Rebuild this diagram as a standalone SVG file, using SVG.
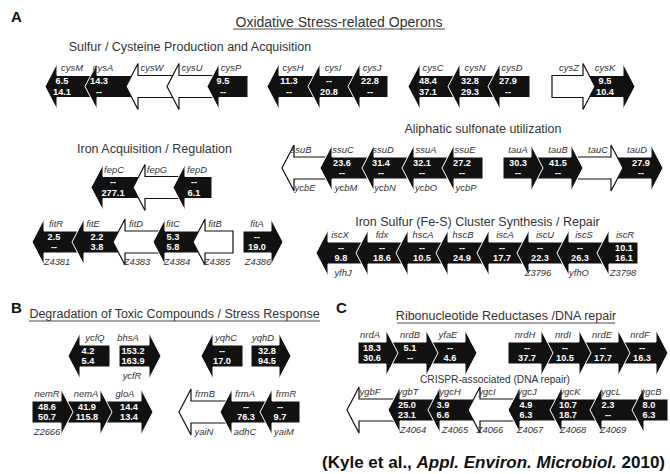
<svg xmlns="http://www.w3.org/2000/svg" width="670" height="474" viewBox="0 0 670 474">
<style>
text{font-family:"Liberation Sans",Arial,sans-serif}
.b{fill:#111;stroke:#fff;stroke-width:1}
.w{fill:#fff;stroke:#111;stroke-width:1.2}
.g{font-size:9.4px;font-style:italic;fill:#333;text-anchor:middle}
.v{font-size:9.2px;font-weight:bold;fill:#fff;text-anchor:middle}
.t{font-size:12.5px;fill:#333;text-anchor:middle}
.h{font-size:15px;font-weight:bold;fill:#111}
.u{stroke:#333;stroke-width:0.9}
</style>
<rect width="670" height="474" fill="#fff"/>
<!-- headings -->
<text class="h" x="11" y="22">A</text>
<text class="t" x="339" y="26.5" style="font-size:14px">Oxidative Stress-related Operons</text>
<line class="u" x1="233" y1="29" x2="445" y2="29"/>
<text class="t" x="190" y="51">Sulfur / Cysteine Production and Acquisition</text>
<text class="t" x="154.5" y="153">Iron Acquisition / Regulation</text>
<text class="t" x="483" y="133">Aliphatic sulfonate utilization</text>
<text class="t" x="477.5" y="226">Iron Sulfur (Fe-S) Cluster Synthesis / Repair</text>
<text class="h" x="11" y="313">B</text>
<text class="t" x="174.5" y="318">Degradation of Toxic Compounds / Stress Response</text>
<line class="u" x1="29" y1="321" x2="320" y2="321"/>
<text class="h" x="336" y="313">C</text>
<text class="t" x="506" y="320">Ribonucleotide Reductases /DNA repair</text>
<line class="u" x1="397" y1="323" x2="615" y2="323"/>
<text class="t" x="495" y="383" style="font-size:10.2px">CRISPR-associated (DNA repair)</text>

<!-- Row 1 cys (cy 86.5) -->
<g id="cysM"><polygon class="b" points="45,86.5 57,63.5 57,75.5 97,75.5 97,97.5 57,97.5 57,109.5"/><text class="g" x="72" y="71">cysM</text><text class="v" x="62" y="84">6.5</text><text class="v" x="62" y="94.5">14.1</text></g>
<g id="cysA"><polygon class="b" points="85,86.5 97,63.5 97,75.5 138,75.5 138,97.5 97,97.5 97,109.5"/><text class="g" x="103" y="71">cysA</text><text class="v" x="99" y="84">14.3</text><text class="v" x="99" y="94.5">--</text></g>
<g id="cysW"><polygon class="w" points="126,86.5 138,63.5 138,75.5 179,75.5 179,97.5 138,97.5 138,109.5"/><text class="g" x="152" y="71">cysW</text></g>
<g id="cysU"><polygon class="w" points="167,86.5 179,63.5 179,75.5 219,75.5 219,97.5 179,97.5 179,109.5"/><text class="g" x="192" y="71">cysU</text></g>
<g id="cysP"><polygon class="b" points="207,86.5 219,63.5 219,75.5 248,75.5 248,97.5 219,97.5 219,109.5"/><text class="g" x="231" y="71">cysP</text><text class="v" x="223" y="84">9.5</text><text class="v" x="223" y="94.5">--</text></g>

<g id="cysH"><polygon class="b" points="267,86.5 279,63.5 279,75.5 320,75.5 320,97.5 279,97.5 279,109.5"/><text class="g" x="293" y="71">cysH</text><text class="v" x="289" y="84">11.3</text><text class="v" x="289" y="94.5">--</text></g>
<g id="cysI"><polygon class="b" points="308,86.5 320,63.5 320,75.5 360,75.5 360,97.5 320,97.5 320,109.5"/><text class="g" x="333" y="71">cysI</text><text class="v" x="329" y="84">--</text><text class="v" x="329" y="94.5">20.8</text></g>
<g id="cysJ"><polygon class="b" points="348,86.5 360,63.5 360,75.5 388,75.5 388,97.5 360,97.5 360,109.5"/><text class="g" x="372" y="71">cysJ</text><text class="v" x="370" y="84">22.8</text><text class="v" x="370" y="94.5">--</text></g>

<g id="cysC"><polygon class="b" points="408,86.5 420,63.5 420,75.5 460,75.5 460,97.5 420,97.5 420,109.5"/><text class="g" x="433" y="71">cysC</text><text class="v" x="428" y="84">48.4</text><text class="v" x="428" y="94.5">37.1</text></g>
<g id="cysN"><polygon class="b" points="448,86.5 460,63.5 460,75.5 500,75.5 500,97.5 460,97.5 460,109.5"/><text class="g" x="475" y="71">cysN</text><text class="v" x="470" y="84">32.8</text><text class="v" x="470" y="94.5">29.3</text></g>
<g id="cysD"><polygon class="b" points="488,86.5 500,63.5 500,75.5 530,75.5 530,97.5 500,97.5 500,109.5"/><text class="g" x="512" y="71">cysD</text><text class="v" x="508" y="84">27.9</text><text class="v" x="508" y="94.5">--</text></g>

<g id="cysK"><polygon class="b" points="583,75.5 623,75.5 623,63.5 635,86.5 623,109.5 623,97.5 583,97.5"/><text class="g" x="605" y="71">cysK</text><text class="v" x="605" y="84">9.5</text><text class="v" x="605" y="94.5">10.4</text></g>
<g id="cysZ"><polygon class="w" points="552,75.5 583,75.5 583,63.5 595,86.5 583,109.5 583,97.5 552,97.5"/><text class="g" x="569" y="71">cysZ</text></g>

<!-- fep row (cy 187.5) -->
<g id="fepC"><polygon class="b" points="91,187.5 103,164.5 103,176.5 145,176.5 145,198.5 103,198.5 103,210.5"/><text class="g" x="114" y="172.5">fepC</text><text class="v" x="113" y="185">--</text><text class="v" x="113" y="195.5">277.1</text></g>
<g id="fepG"><polygon class="w" points="133,187.5 145,164.5 145,176.5 185,176.5 185,198.5 145,198.5 145,210.5"/><text class="g" x="157" y="172.5">fepG</text></g>
<g id="fepD"><polygon class="b" points="173,187.5 185,164.5 185,176.5 212,176.5 212,198.5 185,198.5 185,210.5"/><text class="g" x="197" y="172.5">fepD</text><text class="v" x="194" y="185">--</text><text class="v" x="194" y="195.5">6.1</text></g>

<!-- ssu row (cy 168) -->
<g id="ssuB"><polygon class="w" points="282,168 294,145 294,157 332,157 332,179 294,179 294,191"/><text class="g" x="301" y="153">ssuB</text><text class="g" x="305" y="191">ycbE</text></g>
<g id="ssuC"><polygon class="b" points="320,168 332,145 332,157 374,157 374,179 332,179 332,191"/><text class="g" x="343" y="153">ssuC</text><text class="g" x="346" y="191">ycbM</text><text class="v" x="342" y="165.5">23.6</text><text class="v" x="342" y="176">--</text></g>
<g id="ssuD"><polygon class="b" points="362,168 374,145 374,157 414,157 414,179 374,179 374,191"/><text class="g" x="383" y="153">ssuD</text><text class="g" x="385" y="191">ycbN</text><text class="v" x="381" y="165.5">31.4</text><text class="v" x="381" y="176">--</text></g>
<g id="ssuA"><polygon class="b" points="402,168 414,145 414,157 454,157 454,179 414,179 414,191"/><text class="g" x="426" y="153">ssuA</text><text class="g" x="426" y="191">ycbO</text><text class="v" x="422" y="165.5">32.1</text><text class="v" x="422" y="176">--</text></g>
<g id="ssuE"><polygon class="b" points="442,168 454,145 454,157 483,157 483,179 454,179 454,191"/><text class="g" x="465" y="153">ssuE</text><text class="g" x="466" y="191">ycbP</text><text class="v" x="462" y="165.5">27.2</text><text class="v" x="462" y="176">--</text></g>

<!-- tau row (cy 168) -->
<g id="tauD"><polygon class="b" points="611,157 651,157 651,145 663,168 651,191 651,179 611,179"/><text class="g" x="637" y="153">tauD</text><text class="v" x="641" y="165.5">27.9</text><text class="v" x="641" y="176">--</text></g>
<g id="tauC"><polygon class="w" points="571,157 611,157 611,145 623,168 611,191 611,179 571,179"/><text class="g" x="598" y="153">tauC</text></g>
<g id="tauB"><polygon class="b" points="531,157 571,157 571,145 583,168 571,191 571,179 531,179"/><text class="g" x="558" y="153">tauB</text><text class="v" x="558" y="165.5">41.5</text><text class="v" x="558" y="176">--</text></g>
<g id="tauA"><polygon class="b" points="503,157 531,157 531,145 543,168 531,191 531,179 503,179"/><text class="g" x="518" y="153">tauA</text><text class="v" x="518" y="165.5">30.3</text><text class="v" x="518" y="176">--</text></g>

<!-- fit row (cy 242) -->
<g id="fitR"><polygon class="b" points="32,242 44,219 44,231 84,231 84,253 44,253 44,265"/><text class="g" x="56" y="227">fitR</text><text class="g" x="57" y="265">Z4381</text><text class="v" x="54" y="239.5">2.5</text><text class="v" x="54" y="250">--</text></g>
<g id="fitE"><polygon class="b" points="72,242 84,219 84,231 125,231 125,253 84,253 84,265"/><text class="g" x="93" y="227">fitE</text><text class="v" x="97" y="239.5">2.2</text><text class="v" x="97" y="250">3.8</text></g>
<g id="fitD"><polygon class="w" points="113,242 125,219 125,231 165,231 165,253 125,253 125,265"/><text class="g" x="136" y="227">fitD</text><text class="g" x="137" y="265">Z4383</text></g>
<g id="fitC"><polygon class="b" points="153,242 165,219 165,231 205,231 205,253 165,253 165,265"/><text class="g" x="173" y="227">fitC</text><text class="g" x="177" y="265">Z4384</text><text class="v" x="173" y="239.5">5.3</text><text class="v" x="173" y="250">5.8</text></g>
<g id="fitB"><polygon class="w" points="193,242 205,219 205,231 233,231 233,253 205,253 205,265"/><text class="g" x="215" y="227">fitB</text><text class="g" x="217" y="265">Z4385</text></g>
<g id="fitA"><polygon class="b" points="243,231 271,231 271,219 283,242 271,265 271,253 243,253"/><text class="g" x="257" y="227">fitA</text><text class="g" x="258" y="265">Z4386</text><text class="v" x="257" y="239.5">--</text><text class="v" x="257" y="250">19.0</text></g>

<!-- isc row (cy 253) -->
<g id="iscX"><polygon class="b" points="316,253 328,230 328,242 368,242 368,264 328,264 328,276"/><text class="g" x="340" y="238">iscX</text><text class="g" x="343" y="276">yfhJ</text><text class="v" x="341" y="250.5">--</text><text class="v" x="341" y="261">9.8</text></g>
<g id="fdx"><polygon class="b" points="356,253 368,230 368,242 408,242 408,264 368,264 368,276"/><text class="g" x="382" y="238">fdx</text><text class="v" x="382" y="250.5">--</text><text class="v" x="382" y="261">18.6</text></g>
<g id="hscA"><polygon class="b" points="396,253 408,230 408,242 448,242 448,264 408,264 408,276"/><text class="g" x="423" y="238">hscA</text><text class="v" x="422" y="250.5">--</text><text class="v" x="422" y="261">10.5</text></g>
<g id="hscB"><polygon class="b" points="436,253 448,230 448,242 489,242 489,264 448,264 448,276"/><text class="g" x="463" y="238">hscB</text><text class="v" x="462" y="250.5">--</text><text class="v" x="462" y="261">24.9</text></g>
<g id="iscA"><polygon class="b" points="477,253 489,230 489,242 529,242 529,264 489,264 489,276"/><text class="g" x="505" y="238">iscA</text><text class="v" x="502" y="250.5">--</text><text class="v" x="502" y="261">17.7</text></g>
<g id="iscU"><polygon class="b" points="517,253 529,230 529,242 569,242 569,264 529,264 529,276"/><text class="g" x="545" y="238">iscU</text><text class="g" x="538" y="276">Z3796</text><text class="v" x="540" y="250.5">--</text><text class="v" x="540" y="261">22.3</text></g>
<g id="iscS"><polygon class="b" points="557,253 569,230 569,242 609,242 609,264 569,264 569,276"/><text class="g" x="584" y="238">iscS</text><text class="g" x="579" y="276">yfhO</text><text class="v" x="580" y="250.5">--</text><text class="v" x="580" y="261">26.3</text></g>
<g id="iscR"><polygon class="b" points="597,253 609,230 609,242 638,242 638,264 609,264 609,276"/><text class="g" x="625" y="238">iscR</text><text class="g" x="623" y="276">Z3798</text><text class="v" x="624" y="250.5">10.1</text><text class="v" x="624" y="261">16.1</text></g>

<!-- B: ycfQ row (cy 356) -->
<g id="ycfQ"><polygon class="b" points="68,356 80,333 80,345 110,345 110,367 80,367 80,379"/><text class="g" x="95" y="341">ycfQ</text><text class="v" x="88" y="353.5">4.2</text><text class="v" x="88" y="364">5.4</text></g>
<g id="bhsA"><polygon class="b" points="119,345 149,345 149,333 161,356 149,379 149,367 119,367"/><text class="g" x="128" y="341">bhsA</text><text class="g" x="132" y="379">ycfR</text><text class="v" x="133" y="353.5">153.2</text><text class="v" x="133" y="364">163.9</text></g>
<g id="yqhC"><polygon class="b" points="201,356 213,333 213,345 243,345 243,367 213,367 213,379"/><text class="g" x="226" y="341">yqhC</text><text class="v" x="222" y="353.5">--</text><text class="v" x="222" y="364">17.0</text></g>
<g id="yqhD"><polygon class="b" points="251,345 279,345 279,333 291,356 279,379 279,367 251,367"/><text class="g" x="263" y="341">yqhD</text><text class="v" x="267" y="353.5">32.8</text><text class="v" x="267" y="364">94.5</text></g>

<!-- B: nem row (cy 412) -->
<g id="gloA"><polygon class="b" points="100,401 141,401 141,389 153,412 141,435 141,423 100,423"/><text class="g" x="125" y="397">gloA</text><text class="v" x="129" y="409.5">14.4</text><text class="v" x="129" y="420">13.4</text></g>
<g id="nemA"><polygon class="b" points="61,401 100,401 100,389 112,412 100,435 100,423 61,423"/><text class="g" x="86" y="397">nemA</text><text class="v" x="87" y="409.5">41.9</text><text class="v" x="87" y="420">115.8</text></g>
<g id="nemR"><polygon class="b" points="32,401 61,401 61,389 73,412 61,435 61,423 32,423"/><text class="g" x="47" y="397">nemR</text><text class="g" x="47" y="435">Z2666</text><text class="v" x="47" y="409.5">48.6</text><text class="v" x="47" y="420">50.7</text></g>

<!-- B: frm row (cy 412) -->
<g id="frmB"><polygon class="w" points="179,412 191,389 191,401 232,401 232,423 191,423 191,435"/><text class="g" x="205" y="397">frmB</text><text class="g" x="204" y="435">yaiN</text></g>
<g id="frmA"><polygon class="b" points="220,412 232,389 232,401 272,401 272,423 232,423 232,435"/><text class="g" x="245" y="397">frmA</text><text class="g" x="245" y="435">adhC</text><text class="v" x="246" y="409.5">--</text><text class="v" x="246" y="420">76.3</text></g>
<g id="frmR"><polygon class="b" points="260,412 272,389 272,401 300,401 300,423 272,423 272,435"/><text class="g" x="286" y="397">frmR</text><text class="g" x="284" y="435">yaiM</text><text class="v" x="280" y="409.5">--</text><text class="v" x="280" y="420">9.7</text></g>

<!-- C: nrd row (cy 353) -->
<g id="yfaE"><polygon class="b" points="426,342 465,342 465,330 477,353 465,376 465,364 426,364"/><text class="g" x="448" y="338">yfaE</text><text class="v" x="450" y="350.5">--</text><text class="v" x="450" y="361">4.6</text></g>
<g id="nrdB"><polygon class="b" points="386,342 426,342 426,330 438,353 426,376 426,364 386,364"/><text class="g" x="410" y="338">nrdB</text><text class="v" x="410" y="350.5">5.1</text><text class="v" x="410" y="361">--</text></g>
<g id="nrdA"><polygon class="b" points="358,342 386,342 386,330 398,353 386,376 386,364 358,364"/><text class="g" x="370" y="338">nrdA</text><text class="v" x="372" y="350.5">18.3</text><text class="v" x="372" y="361">30.6</text></g>
<g id="nrdF"><polygon class="b" points="618,342 656,342 656,330 668,353 656,376 656,364 618,364"/><text class="g" x="640" y="338">nrdF</text><text class="v" x="642" y="350.5">--</text><text class="v" x="642" y="361">16.3</text></g>
<g id="nrdE"><polygon class="b" points="579,342 618,342 618,330 630,353 618,376 618,364 579,364"/><text class="g" x="602" y="338">nrdE</text><text class="v" x="603" y="350.5">--</text><text class="v" x="603" y="361">17.7</text></g>
<g id="nrdI"><polygon class="b" points="541,342 579,342 579,330 591,353 579,376 579,364 541,364"/><text class="g" x="563" y="338">nrdI</text><text class="v" x="565" y="350.5">--</text><text class="v" x="565" y="361">10.5</text></g>
<g id="nrdH"><polygon class="b" points="508,342 541,342 541,330 553,353 541,376 541,364 508,364"/><text class="g" x="525" y="338">nrdH</text><text class="v" x="527" y="350.5">--</text><text class="v" x="527" y="361">37.7</text></g>

<!-- C: ygb row (cy 410) -->
<g id="ygbF"><polygon class="w" points="347,410 359,387 359,399 400,399 400,421 359,421 359,433"/><text class="g" x="370" y="395">ygbF</text></g>
<g id="ygbT"><polygon class="b" points="388,410 400,387 400,399 440,399 440,421 400,421 400,433"/><text class="g" x="408" y="395">ygbT</text><text class="g" x="413" y="433">Z4064</text><text class="v" x="407" y="407.5">25.0</text><text class="v" x="407" y="418">23.1</text></g>
<g id="ygcH"><polygon class="b" points="428,410 440,387 440,399 480,399 480,421 440,421 440,433"/><text class="g" x="450" y="395">ygcH</text><text class="g" x="455" y="433">Z4065</text><text class="v" x="443" y="407.5">3.9</text><text class="v" x="443" y="418">6.6</text></g>
<g id="ygcI"><polygon class="w" points="468,410 480,387 480,399 520,399 520,421 480,421 480,433"/><text class="g" x="487" y="395">ygcI</text><text class="g" x="490" y="433">Z4066</text></g>
<g id="ygcJ"><polygon class="b" points="508,410 520,387 520,399 562,399 562,421 520,421 520,433"/><text class="g" x="527" y="395">ygcJ</text><text class="g" x="530" y="433">Z4067</text><text class="v" x="526" y="407.5">4.9</text><text class="v" x="526" y="418">6.3</text></g>
<g id="ygcK"><polygon class="b" points="550,410 562,387 562,399 602,399 602,421 562,421 562,433"/><text class="g" x="570" y="395">ygcK</text><text class="g" x="573" y="433">Z4068</text><text class="v" x="568" y="407.5">10.7</text><text class="v" x="568" y="418">18.7</text></g>
<g id="ygcL"><polygon class="b" points="590,410 602,387 602,399 644,399 644,421 602,421 602,433"/><text class="g" x="611" y="395">ygcL</text><text class="g" x="613" y="433">Z4069</text><text class="v" x="608" y="407.5">2.3</text><text class="v" x="608" y="418">--</text></g>
<g id="ygcB"><polygon class="b" points="632,410 644,387 644,399 668,399 668,421 644,421 644,433"/><text class="g" x="651" y="395">ygcB</text><text class="v" x="649" y="407.5">8.0</text><text class="v" x="649" y="418">6.3</text></g>

<text x="665" y="468" text-anchor="end" style="font-size:17px;font-weight:bold;fill:#111">(Kyle et al., <tspan font-style="italic">Appl. Environ. Microbiol.</tspan> 2010)</text>
</svg>
